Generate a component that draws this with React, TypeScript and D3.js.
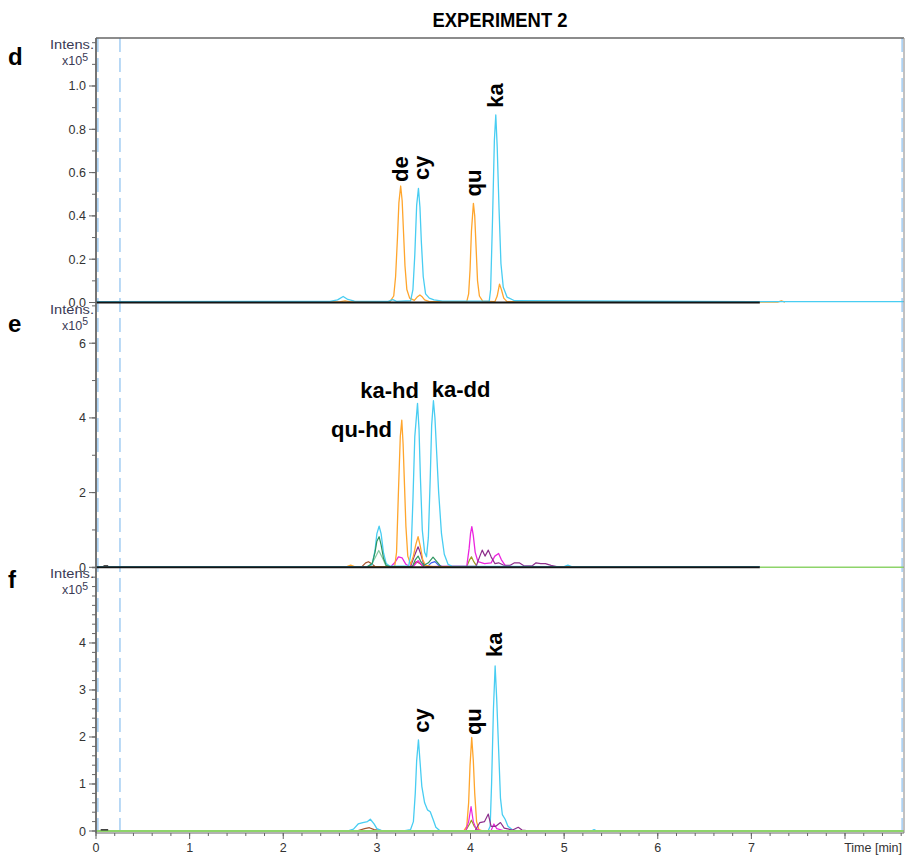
import React from "react";
import * as d3 from "d3";

type Pt = [number, number];

// ---------- DATA (time in min, intensity in x10^5) ----------
const TITLE = "EXPERIMENT 2";
const xMajorTicks = [0, 1, 2, 3, 4, 5, 6, 7];
const dashedMarkers = [0.02, 0.256, 8.61];

const dTicks = [0, 0.2, 0.4, 0.6, 0.8, 1.0];
const eTicks = [0, 2, 4, 6];
const fTicks = [0, 1, 2, 3, 4];

// Panel d
const dOrange: Pt[] = [[0,0.003],[2.6,0.003],[2.66,0.008],[2.72,0.003],[3.14,0.004],[3.18,0.03],[3.2,0.12],[3.22,0.3],[3.235,0.46],[3.254,0.538],[3.27,0.47],[3.285,0.32],[3.3,0.17],[3.32,0.06],[3.35,0.02],[3.4,0.01],[3.43,0.025],[3.46,0.035],[3.48,0.028],[3.51,0.012],[3.56,0.004],[3.96,0.004],[3.98,0.04],[3.995,0.15],[4.01,0.33],[4.031,0.458],[4.045,0.4],[4.06,0.25],[4.075,0.1],[4.095,0.03],[4.13,0.006],[4.26,0.004],[4.285,0.03],[4.31,0.085],[4.33,0.06],[4.355,0.02],[4.39,0.004],[7.28,0.002],[7.32,0.008],[7.36,0.002]];
const dCyan: Pt[] = [[0,0.004],[2.5,0.005],[2.58,0.012],[2.64,0.028],[2.69,0.014],[2.76,0.006],[3.12,0.005],[3.17,0.013],[3.21,0.005],[3.36,0.008],[3.385,0.06],[3.405,0.22],[3.425,0.45],[3.444,0.527],[3.46,0.44],[3.475,0.28],[3.495,0.12],[3.52,0.04],[3.56,0.02],[3.61,0.012],[3.7,0.006],[4.2,0.006],[4.215,0.06],[4.235,0.38],[4.255,0.75],[4.27,0.866],[4.285,0.72],[4.305,0.43],[4.325,0.18],[4.35,0.07],[4.39,0.025],[4.47,0.008],[7.0,0.004],[8.63,0.004]];
const dBlack: Pt[] = [[0,0],[7.09,0]];

// Panel e
const eOrange: Pt[] = [[0,0.02],[2.68,0.02],[2.72,0.06],[2.76,0.02],[3.19,0.02],[3.21,0.4],[3.23,2.0],[3.25,3.5],[3.266,3.94],[3.28,3.3],[3.295,2.2],[3.31,1.1],[3.33,0.3],[3.36,0.08],[3.39,0.3],[3.415,0.6],[3.44,0.82],[3.465,0.55],[3.49,0.2],[3.52,0.05],[3.6,0.02],[7.09,0.02]];
const eCyan: Pt[] = [[0,0.02],[2.9,0.02],[2.95,0.08],[2.98,0.45],[3.0,0.9],[3.024,1.1],[3.045,0.9],[3.07,0.4],[3.1,0.1],[3.14,0.03],[3.34,0.04],[3.365,0.4],[3.385,1.8],[3.405,3.5],[3.434,4.39],[3.45,3.7],[3.465,2.4],[3.485,1.0],[3.51,0.4],[3.53,0.28],[3.55,0.8],[3.57,2.4],[3.585,3.8],[3.604,4.46],[3.62,4.0],[3.64,3.0],[3.66,2.0],[3.69,0.9],[3.72,0.35],[3.76,0.08],[3.8,0.03],[5.0,0.02],[5.04,0.06],[5.08,0.02],[7.09,0.02]];
const eGreen: Pt[] = [[2.9,0.02],[2.95,0.1],[2.98,0.4],[3.0,0.7],[3.024,0.82],[3.045,0.6],[3.07,0.25],[3.1,0.05],[3.14,0.02],[3.38,0.02],[3.41,0.2],[3.44,0.3],[3.47,0.15],[3.5,0.05],[3.55,0.12],[3.6,0.27],[3.64,0.15],[3.68,0.03]];
const eSeaGreen: Pt[] = [[2.93,0.02],[2.98,0.25],[3.02,0.45],[3.06,0.25],[3.1,0.02]];
const eMagenta: Pt[] = [[3.15,0.02],[3.19,0.12],[3.23,0.28],[3.27,0.25],[3.31,0.08],[3.35,0.02],[3.4,0.05],[3.44,0.18],[3.48,0.06],[3.55,0.02],[3.96,0.03],[3.985,0.5],[4.0,0.9],[4.014,1.09],[4.03,0.85],[4.05,0.4],[4.08,0.15],[4.15,0.1],[4.22,0.12],[4.26,0.3],[4.3,0.37],[4.33,0.2],[4.37,0.05],[4.45,0.02]];
const ePurple: Pt[] = [[3.36,0.02],[3.4,0.3],[3.44,0.55],[3.47,0.35],[3.5,0.08],[3.55,0.02],[4.06,0.03],[4.1,0.3],[4.125,0.46],[4.155,0.3],[4.19,0.46],[4.22,0.28],[4.26,0.1],[4.3,0.12],[4.35,0.06],[4.42,0.05],[4.47,0.12],[4.52,0.12],[4.57,0.04],[4.66,0.04],[4.7,0.12],[4.75,0.1],[4.8,0.1],[4.86,0.05],[4.92,0.02]];
const eOlive: Pt[] = [[3.96,0.02],[3.99,0.2],[4.01,0.28],[4.035,0.15],[4.07,0.02]];
const eBrown: Pt[] = [[2.84,0.02],[2.88,0.12],[2.91,0.15],[2.94,0.1],[2.98,0.02],[3.38,0.02],[3.42,0.15],[3.46,0.1],[3.5,0.02]];
const eBlue: Pt[] = [[3.54,0.02],[3.58,0.12],[3.62,0.15],[3.66,0.05],[3.7,0.02]];
const eTail: Pt[] = [[7.09,0],[8.63,0]];
const eBlack: Pt[] = [[0,0],[7.09,0]];
const eDark: Pt[] = [[0.08,0.04],[0.13,0.04]];

// Panel f
const fGreen: Pt[] = [[0,0],[8.63,0]];
const fCyan: Pt[] = [[0,0.01],[2.7,0.01],[2.75,0.04],[2.8,0.15],[2.85,0.18],[2.9,0.2],[2.93,0.25],[2.97,0.15],[3.0,0.05],[3.05,0.01],[3.3,0.01],[3.36,0.03],[3.39,0.2],[3.41,0.8],[3.425,1.5],[3.444,1.94],[3.46,1.5],[3.48,0.95],[3.51,0.6],[3.54,0.45],[3.57,0.41],[3.6,0.25],[3.63,0.08],[3.67,0.01],[4.19,0.01],[4.21,0.1],[4.225,1.0],[4.245,2.6],[4.263,3.51],[4.28,2.8],[4.3,1.75],[4.32,0.7],[4.34,0.35],[4.37,0.25],[4.4,0.1],[4.45,0.02],[4.5,0.01],[5.3,0.01],[5.32,0.03],[5.34,0.01],[7.09,0.01]];
const fOrange: Pt[] = [[3.93,0.01],[3.96,0.1],[3.98,0.6],[3.995,1.4],[4.013,1.99],[4.03,1.5],[4.045,0.8],[4.065,0.2],[4.09,0.03],[4.12,0.01]];
const fMagenta: Pt[] = [[3.95,0.01],[3.98,0.2],[4.006,0.52],[4.03,0.2],[4.06,0.05],[4.1,0.01],[4.22,0.01],[4.25,0.15],[4.28,0.05],[4.35,0.01]];
const fOlive: Pt[] = [[3.95,0.01],[3.99,0.15],[4.01,0.23],[4.04,0.1],[4.08,0.01]];
const fPurple: Pt[] = [[4.05,0.01],[4.1,0.18],[4.15,0.2],[4.19,0.36],[4.22,0.1],[4.27,0.1],[4.32,0.18],[4.36,0.06],[4.45,0.02],[4.51,0.08],[4.55,0.02],[4.6,0.01]];
const fBrown: Pt[] = [[2.8,0.01],[2.87,0.05],[2.92,0.07],[2.97,0.03],[3.05,0.01]];
const fDark: Pt[] = [[0.05,0.025],[0.13,0.025]];

// Peak labels [text, time, intensity, rotated]
const dLabels: [string, number, number, boolean][] = [["de",3.25,0.557,true],["cy",3.47,0.566,true],["qu",4.03,0.49,true],["ka",4.26,0.9,true]];
const eLabels: [string, number, number, boolean][] = [["ka-hd",3.136,4.53,false],["ka-dd",3.9,4.56,false],["qu-hd",2.836,3.5,false]];
const fLabels: [string, number, number, boolean][] = [["cy",3.47,2.09,true],["qu",4.03,2.04,true],["ka",4.25,3.7,true]];

// ---------- STYLE / LAYOUT ----------
const W = 905, H = 856;
const X0 = 96, X1 = 904;
const FONT = '"Liberation Sans", Arial, Helvetica, sans-serif';
const C = {
  orange: "#FFA52C",
  cyan: "#48CDF2",
  magenta: "#EC25DF",
  purple: "#8E2F8C",
  green: "#2E9660",
  sea: "#86C9A2",
  olive: "#9C9A22",
  brown: "#A5532E",
  blue: "#3D5CF0",
  lgreen: "#8ED46A",
  black: "#151515",
  axis: "#666",
  text: "#333",
};

const xScale = d3.scaleLinear().domain([0, 8.63]).range([X0, X1]);

type Trace = { data: Pt[]; color: string; width: number };
type Panel = {
  letter: string;
  yMax: number;
  bottom: number;
  top: number;
  ticks: number[];
  minorStep: number;
  fmt: (v: number) => string;
  traces: Trace[];
  labels: [string, number, number, boolean][];
  letterDy: number;
};

const panels: Panel[] = [
  {
    letter: "d", yMax: 1.2217, bottom: 302.5, top: 38, ticks: dTicks, minorStep: 0.1,
    fmt: d3.format(".1f"), letterDy: 27,
    traces: [
      { data: dOrange, color: C.orange, width: 1.3 },
      { data: dCyan, color: C.cyan, width: 1.3 },
      { data: dBlack, color: C.black, width: 2 },
    ],
    labels: dLabels,
  },
  {
    letter: "e", yMax: 7.09, bottom: 567.3, top: 302.5, ticks: eTicks, minorStep: 1,
    fmt: d3.format("d"), letterDy: 29.5,
    traces: [
      { data: eTail, color: C.lgreen, width: 1.5 },
      { data: eSeaGreen, color: C.sea, width: 1.2 },
      { data: eBrown, color: C.brown, width: 1.2 },
      { data: eBlue, color: C.blue, width: 1.2 },
      { data: eOlive, color: C.olive, width: 1.2 },
      { data: eMagenta, color: C.magenta, width: 1.3 },
      { data: ePurple, color: C.purple, width: 1.2 },
      { data: eOrange, color: C.orange, width: 1.3 },
      { data: eCyan, color: C.cyan, width: 1.3 },
      { data: eGreen, color: C.green, width: 1.2 },
      { data: eBlack, color: C.black, width: 2 },
      { data: eDark, color: "#333", width: 1.3 },
    ],
    labels: eLabels,
  },
  {
    letter: "f", yMax: 5.61, bottom: 831, top: 567.3, ticks: fTicks, minorStep: 0.2,
    fmt: d3.format("d"), letterDy: 21,
    traces: [
      { data: fBrown, color: C.brown, width: 1.2 },
      { data: fCyan, color: C.cyan, width: 1.3 },
      { data: fOlive, color: C.olive, width: 1.2 },
      { data: fOrange, color: C.orange, width: 1.3 },
      { data: fMagenta, color: C.magenta, width: 1.2 },
      { data: fPurple, color: C.purple, width: 1.2 },
      { data: fGreen, color: C.lgreen, width: 1.8 },
      { data: fDark, color: "#333", width: 1.5 },
    ],
    labels: fLabels,
  },
];

const AXIS_Y = 833;

export default function App() {
  const xMinor = d3.range(0, 8.62, 0.2);
  return (
    <svg
      width={W}
      height={H}
      viewBox={`0 0 ${W} ${H}`}
      style={{ position: "absolute", left: 0, top: 0, background: "#fff" }}
      fontFamily={FONT}
    >
      <rect x={0} y={0} width={W} height={H} fill="#fff" />
      <text
        x={500}
        y={27}
        textAnchor="middle"
        fontSize={20}
        fontWeight="bold"
        fill="#000"
        textLength={135}
        lengthAdjust="spacingAndGlyphs"
      >
        {TITLE}
      </text>

      {/* dashed markers */}
      {dashedMarkers.map((t, i) => (
        <line
          key={"dm" + i}
          x1={xScale(t)}
          x2={xScale(t)}
          y1={38}
          y2={AXIS_Y}
          stroke="#A8D0F4"
          strokeWidth={1.6}
          strokeDasharray="14,6"
        />
      ))}

      {panels.map((p) => {
        const y = d3.scaleLinear().domain([0, p.yMax]).range([p.bottom, p.top]);
        const line = d3
          .line<Pt>()
          .x((d) => xScale(d[0]))
          .y((d) => y(d[1]));
        const minors = d3.range(0, p.yMax + 1e-6, p.minorStep);
        return (
          <g key={p.letter}>
            {p.traces.map((tr, i) => (
              <path
                key={i}
                d={line(tr.data) || ""}
                fill="none"
                stroke={tr.color}
                strokeWidth={tr.width}
                strokeLinejoin="round"
              />
            ))}
            {minors.map((v, i) => (
              <line key={"mn" + i} x1={X0 - 4} x2={X0} y1={y(v)} y2={y(v)} stroke={C.axis} strokeWidth={1} />
            ))}
            {p.ticks.map((v, i) => (
              <g key={"mj" + i}>
                <line x1={X0 - 7} x2={X0} y1={y(v)} y2={y(v)} stroke={C.axis} strokeWidth={1} />
                <text x={X0 - 10} y={y(v)} dy="0.36em" textAnchor="end" fontSize={12.5} fill={C.text}>
                  {p.fmt(v)}
                </text>
              </g>
            ))}
            <text x={94} y={p.top + 11} textAnchor="end" fontSize={12} fill="#3a3a55" textLength={44} lengthAdjust="spacingAndGlyphs">
              Intens.
            </text>
            <text x={88} y={p.top + 27} textAnchor="end" fontSize={12.5} fill="#3a3a55">
              x10<tspan dy={-4.5} fontSize={10.5}>5</tspan>
            </text>
            <text x={8} y={p.top + p.letterDy} fontSize={24} fontWeight="bold" fill="#000">
              {p.letter}
            </text>
            {p.labels.map(([txt, t, v, rot], i) =>
              rot ? (
                <text
                  key={"lb" + i}
                  transform={`translate(${xScale(t)},${y(v)}) rotate(-90)`}
                  dy="0.36em"
                  fontSize={22}
                  fontWeight="bold"
                  fill="#000"
                >
                  {txt}
                </text>
              ) : (
                <text key={"lb" + i} x={xScale(t)} y={y(v)} textAnchor="middle" fontSize={22} fontWeight="bold" fill="#000">
                  {txt}
                </text>
              )
            )}
          </g>
        );
      })}

      {/* frame */}
      <line x1={X0} x2={X1} y1={38} y2={38} stroke={C.axis} strokeWidth={1.5} />
      <line x1={X1} x2={X1} y1={38} y2={AXIS_Y} stroke="#999" strokeWidth={1.2} />
      <line x1={X0} x2={X0} y1={38} y2={AXIS_Y} stroke={C.axis} strokeWidth={1.8} />
      <line x1={X0} x2={X1} y1={AXIS_Y} y2={AXIS_Y} stroke={C.axis} strokeWidth={1.2} />

      {xMinor.map((t, i) => (
        <line key={"xm" + i} x1={xScale(t)} x2={xScale(t)} y1={AXIS_Y} y2={AXIS_Y + 3} stroke={C.axis} strokeWidth={1} />
      ))}
      {[...xMajorTicks, 8].map((t) => (
        <line key={"xM" + t} x1={xScale(t)} x2={xScale(t)} y1={AXIS_Y} y2={AXIS_Y + 6} stroke={C.axis} strokeWidth={1} />
      ))}
      {xMajorTicks.map((t) => (
        <text key={"xl" + t} x={xScale(t)} y={AXIS_Y + 19} textAnchor="middle" fontSize={12.5} fill={C.text}>
          {t}
        </text>
      ))}
      <text x={X1 - 2} y={AXIS_Y + 19} textAnchor="end" fontSize={12.5} fill={C.text}>
        Time [min]
      </text>
    </svg>
  );
}
